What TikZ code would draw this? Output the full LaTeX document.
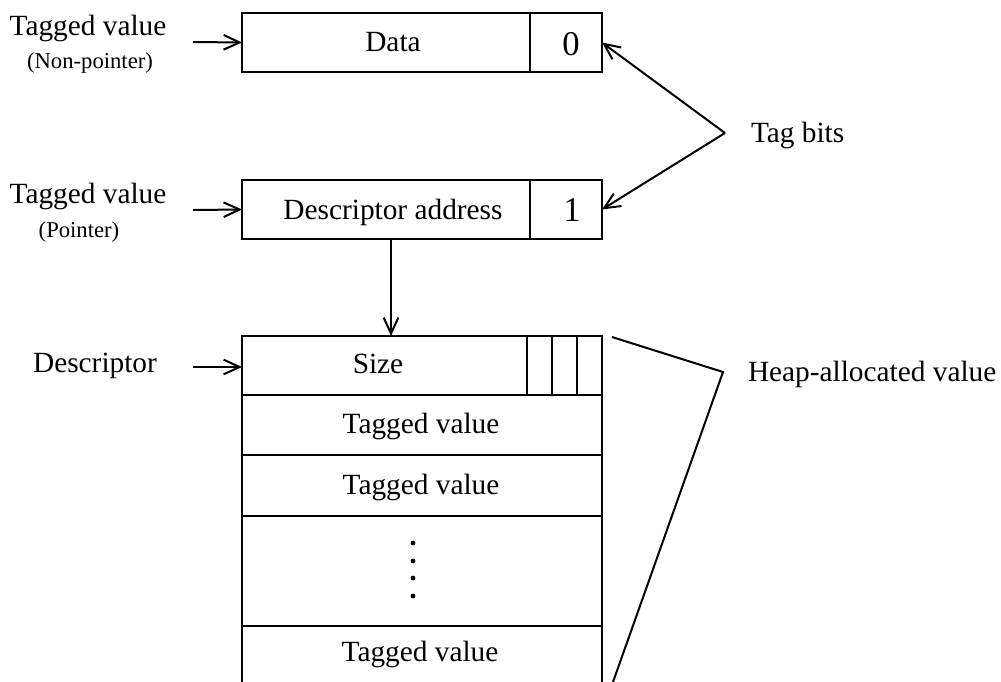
\documentclass[tikz,border=0pt]{standalone}
\usepackage{fontspec}
\setmainfont{Liberation Serif}
\usetikzlibrary{arrows.meta}
\begin{document}
\begin{tikzpicture}[x=0.75pt,y=-0.75pt,
  line width=1.5pt,
  cell/.style={draw,rectangle,inner sep=0pt,outer sep=0pt,anchor=north west},
  lbl/.style={font=\fontsize{22}{26}\selectfont,inner sep=0pt,anchor=base},
  digit/.style={font=\fontsize{26}{30}\selectfont,inner sep=0pt,anchor=base},
  sublbl/.style={font=\fontsize{17}{20}\selectfont,inner sep=0pt,anchor=base},
  arr/.style={-{Straight Barb[length=12pt,width=11pt,line width=1.5pt]}},
  dot/.style={circle,fill,inner sep=0pt,minimum size=3.6pt}]
\useasboundingbox (0,0) rectangle (1001,682);

% word with tag bit: non-pointer
\node[cell,minimum width=216pt,minimum height=44.25pt] (data) at (242,13) {};
\node[cell,minimum width=54pt,minimum height=44.25pt] (tag0) at (530,13) {};
\node[lbl] (datatxt) at (393,51) {Data};
\node[digit] (zero) at (571,55) {0};
\node[lbl] (tv0) at (88,35) {Tagged value};
\node[sublbl] (np) at (90,68) {(Non-pointer)};
\coordinate (in0) at (193,42);
\draw[arr] (in0) -- (data.west);

% word with tag bit: pointer
\node[cell,minimum width=216pt,minimum height=44.25pt] (addr) at (242,180) {};
\node[cell,minimum width=54pt,minimum height=44.25pt] (tag1) at (530,180) {};
\node[lbl] (addrtxt) at (393,219) {Descriptor address};
\node[digit] (one) at (572,221) {1};
\node[lbl] (tvp) at (88,203) {Tagged value};
\node[sublbl] (ptr) at (79,237) {(Pointer)};
\coordinate (in1) at (193,210);
\draw[arr] (in1) -- (addr.west);

% tag bits callout
\coordinate (tagv) at (725,133);
\node[lbl,anchor=base west] (tagbits) at (750,142) {Tag bits};
\draw[arr] (tagv) -- (tag0.east);
\draw[arr] (tagv) -- (tag1.east);

% heap-allocated object
\node[cell,minimum width=270pt,minimum height=44.25pt] (size) at (242,336) {};
\node[lbl] (sizetxt) at (378,373) {Size};
\draw (527,336) -- (527,395) (552,336) -- (552,395) (577,336) -- (577,395);
\node[cell,minimum width=270pt,minimum height=45pt] (tv1) at (242,395) {};
\node[lbl] (tv1txt) at (421,433) {Tagged value};
\node[cell,minimum width=270pt,minimum height=45.75pt] (tv2) at (242,455) {};
\node[lbl] (tv2txt) at (421,494) {Tagged value};
\node[cell,minimum width=270pt,minimum height=82.5pt] (gap) at (242,516) {};
\foreach \y/\n in {543/a,561/b,578/c,596/d} \node[dot] (dot\n) at (413,\y) {};
\node[lbl] (tv3) at (420,661) {Tagged value};
\draw (gap.south west) -- (242,682) (gap.south east) -- (602,682);

% descriptor pointer
\coordinate (dtop) at (391,239);
\draw[arr] (dtop) -- (dtop |- size.north);
\node[lbl] (desc) at (95,372) {Descriptor};
\coordinate (in2) at (193,367);
\draw[arr] (in2) -- (in2 -| size.west);

% heap bracket
\coordinate (hb0) at (612,337);
\coordinate (hbv) at (723,372);
\coordinate (hb1) at (613,682);
\draw (hb0) -- (hbv) -- (hb1);
\node[lbl,anchor=base west] (heap) at (747,381) {Heap-allocated value};
\end{tikzpicture}
\end{document}
